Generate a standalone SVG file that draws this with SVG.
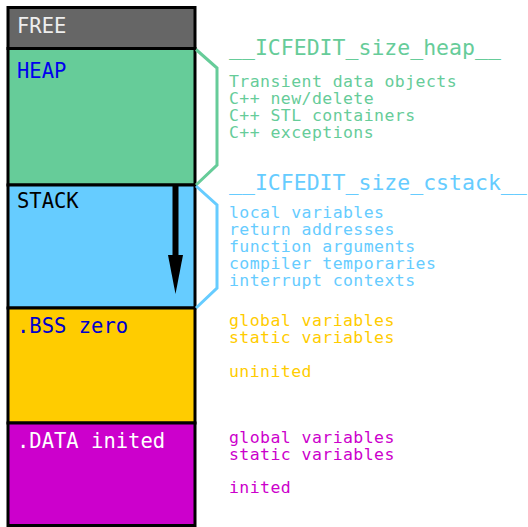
<svg xmlns="http://www.w3.org/2000/svg" width="528" height="527" viewBox="0 0 528 527">
<style>
.box{stroke:#000;stroke-width:3}
.lbl{font-family:"DejaVu Sans Mono","Liberation Mono",monospace;font-size:20.5px}
.hd{font-family:"DejaVu Sans Mono","Liberation Mono",monospace;font-size:21.5px}
.tx{font-family:"DejaVu Sans Mono","Liberation Mono",monospace;font-size:16.5px;letter-spacing:0.43px}
.brace{fill:none;stroke-width:3;stroke-linejoin:miter}
</style>
<rect width="528" height="527" fill="#fff"/>
<g id="free"><rect class="box" x="8" y="7.5" width="187" height="41" fill="#666"/><text class="lbl" x="17" y="33" fill="#eee">FREE</text></g>
<g id="heap"><rect class="box" x="8" y="48.5" width="187" height="136.5" fill="#66cc99"/><text class="lbl" x="17" y="77.5" fill="#0000ee">HEAP</text></g>
<g id="stack"><rect class="box" x="8" y="185" width="187" height="123" fill="#66ccff"/><text class="lbl" x="17" y="208" fill="#000">STACK</text></g>
<g id="bss"><rect class="box" x="8" y="308" width="187" height="115" fill="#ffcc00"/><text class="lbl" x="17" y="333" fill="#0000cc">.BSS zero</text></g>
<g id="data"><rect class="box" x="8" y="423" width="187" height="102.5" fill="#cc00cc"/><text class="lbl" x="17" y="448" fill="#fff">.DATA inited</text></g>
<g id="connectors">
<path d="M175.5 185 V257" stroke="#000" stroke-width="6" fill="none"/>
<polygon points="168,255 183,255 175.5,294" fill="#000"/>
<polyline class="brace" stroke="#66cc99" points="196,49.5 217,68 217,165 196,185"/>
<polyline class="brace" stroke="#66ccff" points="196,186 217,205 217,288 196,308"/>
</g>
<g id="heap-notes" fill="#66cc99">
<text class="hd" x="229" y="55">__ICFEDIT_size_heap__</text>
<text class="tx" x="229" y="87.3">Transient data objects</text>
<text class="tx" x="229" y="104.3">C++ new/delete</text>
<text class="tx" x="229" y="121.3">C++ STL containers</text>
<text class="tx" x="229" y="138.3">C++ exceptions</text>
</g>
<g id="stack-notes" fill="#66ccff">
<text class="hd" x="229" y="190">__ICFEDIT_size_cstack__</text>
<text class="tx" x="229" y="218.3">local variables</text>
<text class="tx" x="229" y="235.3">return addresses</text>
<text class="tx" x="229" y="252.3">function arguments</text>
<text class="tx" x="229" y="269.3">compiler temporaries</text>
<text class="tx" x="229" y="286.3">interrupt contexts</text>
</g>
<g id="bss-notes" fill="#ffcc00">
<text class="tx" x="229" y="326">global variables</text>
<text class="tx" x="229" y="343">static variables</text>
<text class="tx" x="229" y="377">uninited</text>
</g>
<g id="data-notes" fill="#cc00cc">
<text class="tx" x="229" y="442.7">global variables</text>
<text class="tx" x="229" y="459.5">static variables</text>
<text class="tx" x="229" y="493">inited</text>
</g>
</svg>
